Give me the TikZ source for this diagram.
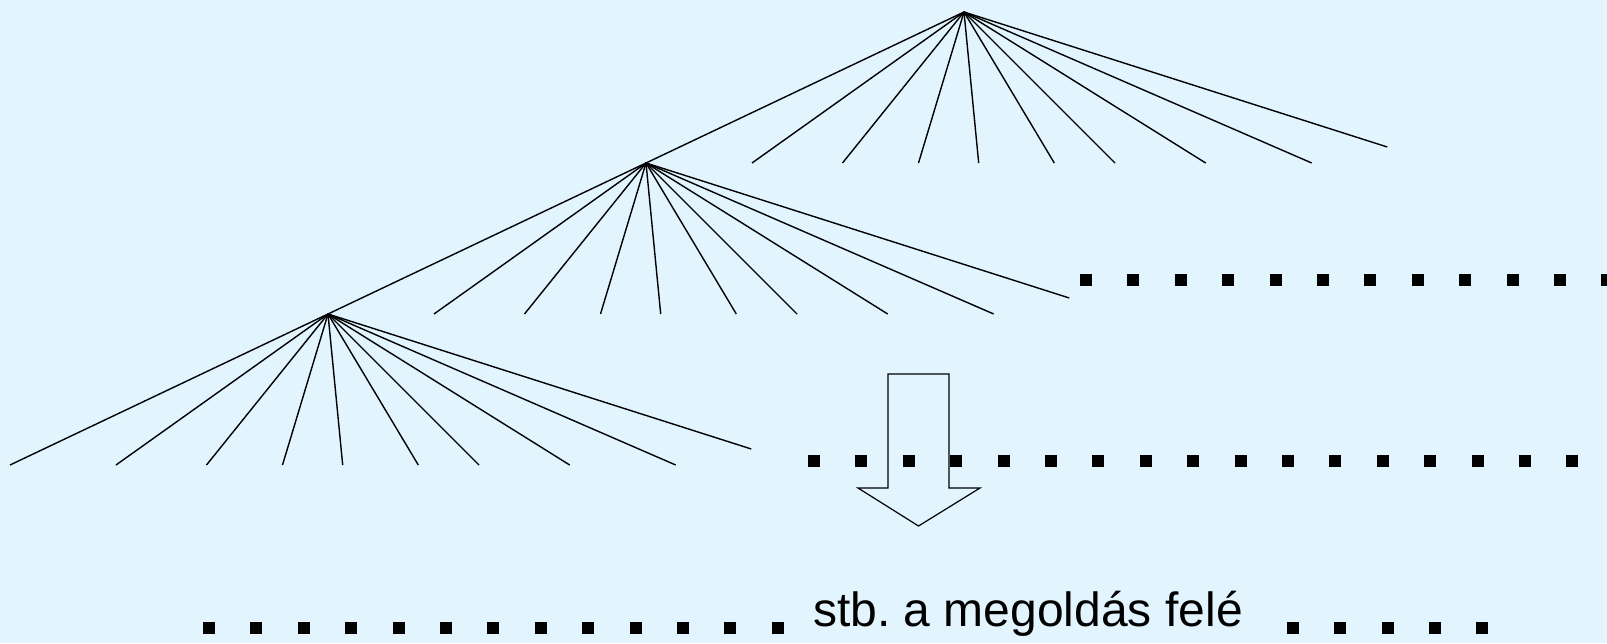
\documentclass[tikz,border=0pt]{standalone}
\usepackage{fontspec}
\setmainfont{Liberation Sans}
\definecolor{sky}{RGB}{226,244,254}
\frenchspacing
\begin{document}
\begin{tikzpicture}[x=1pt,y=-1pt,
  branch/.style={line width=1.4pt, draw=black},
  sq/.style={fill=black},
  bigarrow/.style={line width=1.2pt, draw=black, line join=miter},
  caption/.style={anchor=base west, inner sep=0pt, font=\fontsize{48}{58}\selectfont}]
% background and frame
\fill[sky] (0,0) rectangle (1607,643);
\useasboundingbox (0,0) rectangle (1607,643);
\clip (0,0) rectangle (1607,643);

% roots of the three fans
\coordinate (r1) at (964,12);
\coordinate (r2) at (646,163);
\coordinate (r3) at (328,314);
\coordinate (leaf) at (10,465);

% each fan: the leftmost branch leads to the next root, the rest are leaves
\draw[branch] (r1) -- (r2);
\draw[branch] (r2) -- (r3);
\draw[branch] (r3) -- (leaf);
\foreach \r in {1,2,3} {
  \foreach \dx [count=\i] in {-212,-121.5,-45.5,14.7,90.3,151,241.7,347.7} {
    \path (r\r) ++(\dx,151) coordinate (c\r-\i);
    \draw[branch] (r\r) -- (c\r-\i);
  }
  \path (r\r) ++(423.3,135) coordinate (e\r);
  \draw[branch] (r\r) -- (e\r);
}

% downward arrow
\draw[bigarrow] (888,374) -- (949,374) -- (949,488) -- (980,488)
  -- (918.5,526) -- (858,488) -- (888,488) -- cycle;

% dotted continuation rows
\foreach \k in {0,...,11}
  \fill[sq] (1086+47.4*\k-6,274) rectangle ++(12,12);
\foreach \k in {0,...,16}
  \fill[sq] (814+47.4*\k-6,455) rectangle ++(12,12);
\foreach \k in {0,...,12}
  \fill[sq] (209+47.4*\k-6,622) rectangle ++(12,12);
\foreach \k in {0,...,4}
  \fill[sq] (1293+47.3*\k-6,622) rectangle ++(12,12);

% caption
\node[caption] (label) at (813,626) {stb. a megoldás felé};
\end{tikzpicture}
\end{document}
